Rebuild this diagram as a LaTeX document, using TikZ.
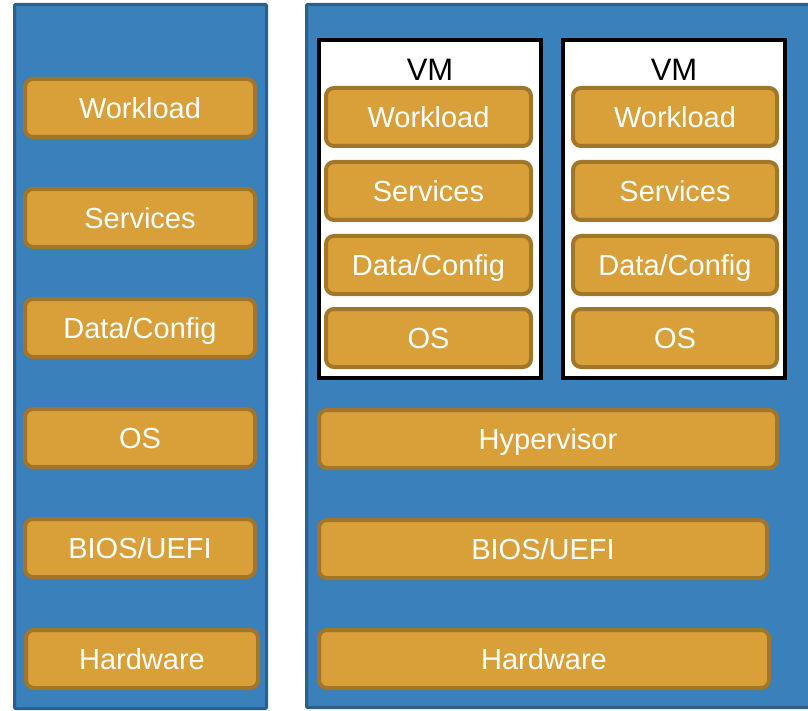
\documentclass[tikz,border=0pt]{standalone}
\usepackage{fontspec}
\setmainfont{Liberation Sans}
\definecolor{panelfill}{HTML}{3A80BA}
\definecolor{paneledge}{HTML}{2C5F8A}
\definecolor{layerfill}{HTML}{D9A03A}
\definecolor{layeredge}{HTML}{A2762A}
\tikzset{
  panel/.style={draw=paneledge, fill=panelfill, line width=3pt, rectangle, rounded corners=1pt,
    inner sep=0pt, anchor=center},
  layer/.style={draw=layeredge, fill=layerfill, line width=4pt, rectangle, rounded corners=8pt,
    inner sep=0pt, minimum height=58pt, text=white, text height=27pt, text depth=6pt,
    font=\fontsize{29}{34}\selectfont},
  vmframe/.style={draw=black, fill=white, line width=4pt, rectangle, inner sep=0pt,
    minimum width=222pt, minimum height=338pt},
  vmlabel/.style={text=black, inner sep=0pt, font=\fontsize{31}{36}\selectfont},
}
\begin{document}
\begin{tikzpicture}[x=1pt, y=-1pt]
\useasboundingbox (0,0) rectangle (808,711);
\clip (0,0) rectangle (808,711);

% bare-metal stack
\node[panel, minimum width=252pt, minimum height=704pt] (barepanel) at (140.5,356.5) {};
\node[layer, minimum width=230pt] (bwork) at (140,108) {Workload};
\node[layer, minimum width=230pt] (bserv) at (140,218) {Services};
\node[layer, minimum width=230pt] (bdata) at (140,328) {Data/Config};
\node[layer, minimum width=230pt] (bos)   at (140,438) {OS};
\node[layer, minimum width=230pt] (bbios) at (140,548) {BIOS/UEFI};
\node[layer, minimum width=232pt] (bhw)   at (142,659) {Hardware};

% virtualised stack
\node[panel, minimum width=530pt, minimum height=703pt] (virtpanel) at (571.5,356) {};

\node[vmframe] (vmone) at (430,209) {};
\node[vmlabel] (vmonelabel) at (430,70) {VM};
\node[layer, minimum width=205pt] (awork) at (428.5,117) {Workload};
\node[layer, minimum width=205pt] (aserv) at (428.5,191) {Services};
\node[layer, minimum width=205pt] (adata) at (428.5,265) {Data/Config};
\node[layer, minimum width=205pt] (aos)   at (428.5,338) {OS};

\node[vmframe] (vmtwo) at (674,209) {};
\node[vmlabel] (vmtwolabel) at (674,70) {VM};
\node[layer, minimum width=204pt] (cwork) at (675,117) {Workload};
\node[layer, minimum width=204pt] (cserv) at (675,191) {Services};
\node[layer, minimum width=204pt] (cdata) at (675,265) {Data/Config};
\node[layer, minimum width=204pt] (cos)   at (675,338) {OS};

\node[layer, minimum width=458pt] (hyper) at (548,439) {Hypervisor};
\node[layer, minimum width=448pt] (vbios) at (543,549) {BIOS/UEFI};
\node[layer, minimum width=450pt] (vhw)   at (544,659) {Hardware};
\end{tikzpicture}
\end{document}
